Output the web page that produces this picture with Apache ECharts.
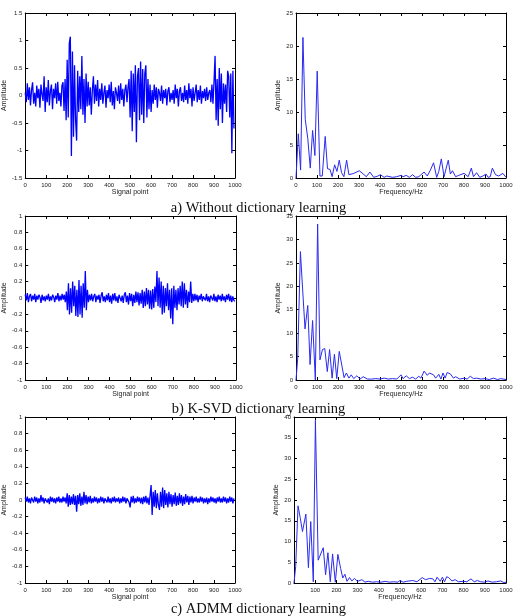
<!DOCTYPE html>
<html>
<head>
<meta charset="utf-8">
<script src="https://cdn.jsdelivr.net/npm/echarts@6/dist/echarts.min.js"></script>
<style>
  html, body { margin: 0; padding: 0; background: #fff; }
  #chart { width: 517px; height: 616px; }
</style>
</head>
<body>
<div id="chart"></div>
<script>
// time signals, one value every 5 samples
const signalStep = 5
const signalA = [
  0.05, -0.12, 0.22, -0.08, 0.15, -0.18, 0.10, 0.24, -0.15, 0.05,
  -0.20, 0.18, -0.05, 0.12, -0.22, 0.20, 0.02, -0.10, 0.35, -0.30,
  0.15, -0.12, 0.28, -0.18, 0.08, 0.20, -0.25, 0.12, -0.05, 0.22,
  -0.15, 0.25, -0.10, 0.05, -0.20, 0.18, 0.24, -0.28, 0.30, -0.45,
  0.65, -0.40, 0.95, 1.07, -1.10, 0.80, -0.75, 0.55, -0.45, -0.82,
  0.45, -0.30, 0.35, -0.25, 0.72, -0.35, 0.30, -0.50, 0.40, -0.20,
  0.25, -0.18, 0.15, -0.35, 0.10, 0.35, -0.15, 0.20, -0.10, 0.28,
  -0.20, 0.12, -0.08, 0.22, -0.15, 0.05, 0.18, -0.22, 0.10, -0.05,
  0.20, -0.12, 0.25, -0.18, 0.08, -0.25, 0.15, 0.05, -0.10, 0.18,
  -0.15, 0.22, -0.08, 0.12, -0.20, 0.10, 0.20, -0.12, 0.15, 0.30,
  -0.40, 0.45, -0.65, 0.40, -0.30, 0.55, -0.85, 0.35, 0.50, -0.45,
  0.62, -0.35, 0.48, -0.50, 0.40, 0.55, -0.40, 0.30, -0.25, 0.20,
  -0.30, 0.10, -0.15, 0.20, -0.08, 0.15, -0.22, 0.12, 0.05, -0.10,
  0.18, -0.15, 0.10, -0.05, 0.12, -0.18, 0.08, 0.15, -0.12, 0.05,
  -0.08, 0.10, -0.15, 0.20, -0.05, 0.12, -0.20, 0.08, 0.15, -0.10,
  0.05, -0.12, 0.18, -0.08, 0.10, -0.15, 0.22, -0.05, 0.12, -0.20,
  0.15, -0.10, 0.05, 0.20, -0.12, 0.10, -0.08, 0.18, -0.15, 0.08,
  -0.05, 0.12, -0.10, 0.15, -0.08, 0.05, 0.10, -0.12, 0.20, -0.15,
  0.25, 0.72, -0.45, 0.30, -0.55, 0.50, -0.25, 0.40, -0.50, 0.22,
  -0.15, 0.20, -0.30, 0.45, 0.35, -0.40, 0.40, -1.05, 0.45, -0.60
]
const signalB = [
  0.04, -0.03, 0.06, -0.05, 0.02, 0.05, -0.04, 0.03, -0.02, 0.05,
  -0.05, 0.03, -0.02, 0.04, 0.01, -0.06, 0.04, -0.03, 0.02, -0.04,
  0.03, -0.02, 0.05, -0.04, 0.02, -0.03, 0.04, 0.01, -0.05, 0.03,
  -0.02, 0.06, -0.04, 0.03, -0.03, 0.05, -0.02, 0.04, -0.05, 0.08,
  -0.15, 0.18, -0.20, 0.12, -0.18, 0.20, -0.10, 0.15, -0.22, 0.10,
  -0.23, 0.22, -0.20, 0.15, -0.24, 0.18, -0.12, 0.33, -0.15, 0.10,
  -0.05, 0.04, -0.03, 0.05, -0.04, 0.02, 0.05, -0.05, 0.03, -0.02,
  0.04, -0.06, 0.03, 0.07, -0.04, 0.02, -0.05, 0.04, -0.03, 0.06,
  -0.05, 0.03, -0.07, 0.05, -0.03, 0.06, -0.04, 0.02, -0.06, 0.04,
  0.05, -0.04, 0.03, -0.06, 0.04, 0.07, -0.05, 0.03, -0.08, 0.06,
  -0.04, 0.05, -0.10, 0.04, -0.06, 0.08, -0.05, 0.07, -0.09, 0.06,
  -0.07, 0.10, -0.12, 0.08, -0.10, 0.12, -0.08, 0.10, -0.13, 0.09,
  -0.14, 0.11, -0.12, 0.14, -0.05, 0.33, -0.10, 0.25, -0.12, 0.20,
  -0.20, 0.15, -0.18, 0.12, -0.10, 0.18, -0.15, 0.10, -0.25, 0.12,
  -0.32, 0.15, -0.12, 0.10, -0.15, 0.12, -0.08, 0.15, -0.10, 0.20,
  -0.12, 0.18, -0.08, 0.10, -0.12, 0.08, -0.05, 0.20, -0.06, 0.05,
  -0.04, 0.05, -0.03, 0.04, -0.05, 0.03, -0.02, 0.05, -0.04, 0.02,
  0.04, -0.03, 0.05, -0.04, 0.02, -0.05, 0.03, 0.04, -0.03, 0.05,
  -0.04, 0.02, -0.05, 0.04, -0.02, 0.03, -0.04, 0.05, -0.03, 0.02,
  -0.05, 0.04, -0.02, 0.05, -0.04, 0.03, -0.05, 0.02, -0.03, -0.04
]
const signalC = [
  0.03, -0.02, 0.04, -0.03, 0.02, -0.04, 0.03, 0.01, -0.03, 0.04,
  -0.02, 0.03, -0.04, 0.02, -0.03, 0.06, -0.02, 0.03, -0.04, 0.02,
  0.03, -0.03, 0.02, -0.05, 0.04, -0.02, 0.03, -0.03, 0.02, -0.04,
  0.03, -0.02, 0.04, -0.03, 0.02, -0.03, 0.04, -0.02, 0.03, -0.04,
  0.08, -0.08, 0.06, -0.06, 0.04, -0.05, 0.07, -0.06, 0.05, -0.14,
  0.06, -0.05, 0.08, -0.07, 0.04, -0.06, 0.10, -0.04, 0.06, -0.05,
  0.04, -0.03, 0.05, -0.04, 0.02, -0.03, 0.04, -0.02, 0.03, -0.04,
  0.02, -0.03, 0.04, -0.02, 0.03, -0.04, 0.02, 0.03, -0.03, 0.04,
  -0.03, 0.02, -0.04, 0.03, -0.02, 0.04, -0.03, 0.02, -0.02, 0.03,
  -0.04, 0.02, -0.03, 0.04, -0.02, 0.03, -0.04, 0.02, 0.04, -0.03,
  -0.09, 0.04, -0.03, 0.05, -0.04, 0.02, -0.03, 0.04, -0.02, 0.03,
  -0.04, 0.03, -0.05, 0.04, -0.03, 0.05, -0.04, 0.03, -0.06, 0.05,
  0.18, -0.18, 0.10, -0.08, 0.12, -0.10, 0.08, -0.06, -0.12, 0.10,
  -0.08, 0.15, -0.10, 0.12, -0.06, 0.08, -0.09, 0.10, -0.05, 0.07,
  -0.08, 0.06, -0.05, 0.09, -0.07, 0.05, -0.06, 0.08, -0.04, 0.06,
  -0.07, 0.04, -0.05, 0.07, -0.03, 0.05, -0.06, 0.04, -0.03, 0.05,
  -0.04, 0.03, -0.02, 0.04, -0.03, 0.02, -0.03, 0.04, -0.02, 0.03,
  -0.04, 0.02, -0.03, 0.03, -0.05, 0.02, -0.03, 0.04, -0.02, 0.03,
  -0.03, 0.02, -0.04, 0.03, -0.02, 0.04, -0.03, 0.02, -0.03, 0.04,
  -0.02, 0.03, -0.04, 0.02, -0.03, 0.04, -0.02, 0.03, -0.04, 0.02
]

// spectra
const freqA = [0, 11, 22, 33, 44, 56, 68, 79, 90, 101, 114, 125, 139, 150, 162, 172, 184, 195, 206, 217,
  228, 241, 252, 275, 302, 335, 352, 370, 390, 402, 420, 432, 460, 480, 500, 510, 525, 540, 555, 570,
  585, 595, 610, 625, 640, 655, 670, 680, 692, 705, 725, 735, 745, 760, 775, 800, 820, 835, 845, 860,
  875, 890, 905, 915, 925, 935, 950, 965, 985, 1000]
const ampA = [0, 6.7, 1.2, 21.3, 8.9, 6.0, 1.5, 7.2, 3.4, 16.2, 0.3, 0.3, 6.3, 1.4, 1.3, 0.2, 2.0, 1.0, 2.7, 0.8,
  0.2, 2.7, 0.5, 0.7, 1.1, 0.2, 0.9, 0.1, 0.3, 0.5, 0.1, 0.3, 0.1, 0.2, 0.4, 0.2, 0.4, 0.1, 0.5, 0.1,
  0.2, 0.5, 0.9, 0.3, 1.2, 2.3, 0.1, 1.0, 2.9, 0.2, 2.7, 0.6, 1.1, 0.2, 0.4, 0.7, 0.2, 1.5, 0.2, 0.8,
  0.1, 0.3, 0.6, 0.1, 0.2, 1.5, 0.5, 0.3, 0.7, 0.1]
const freqB = [0, 8, 21, 32, 43, 56, 67, 79, 92, 103, 114, 126, 137, 149, 160, 172, 183, 194, 206, 218,
  229, 240, 252, 263, 275, 290, 305, 320, 340, 360, 380, 400, 420, 440, 460, 480, 500, 510, 525, 540,
  555, 570, 585, 595, 610, 625, 635, 655, 665, 680, 690, 700, 710, 720, 735, 750, 760, 780, 800, 815,
  830, 845, 860, 880, 900, 920, 940, 960, 975, 1000]
const ampB = [0, 4.5, 27.4, 19.0, 10.9, 15.9, 3.3, 12.7, 0, 33.3, 4.3, 6.5, 6.7, 1.8, 6.5, 0.4, 5.5, 0.3, 6.1, 3.2,
  0.5, 1.5, 0.4, 1.1, 0.3, 0.9, 0.2, 0.7, 0.2, 0.2, 0.3, 0.2, 0.4, 0.2, 0.3, 0.2, 1.1, 0.3, 0.9, 0.3,
  0.6, 0.2, 0.8, 0.4, 1.9, 1.0, 1.5, 1.1, 0.4, 1.2, 0.2, 1.5, 0.4, 1.6, 1.3, 0.4, 0.7, 0.2, 0.4, 0.2,
  0.8, 0.3, 0.4, 0.2, 0.3, 0.1, 0.4, 0.1, 0.3, 0.1]
const freqC = [0, 8, 19, 30, 40, 56, 68, 79, 91, 101, 114, 138, 149, 160, 171, 182, 195, 207, 220, 230,
  240, 250, 262, 273, 285, 300, 320, 335, 350, 370, 390, 410, 430, 450, 470, 490, 500, 515, 530, 560,
  580, 605, 620, 640, 655, 665, 675, 690, 700, 710, 720, 730, 745, 760, 775, 800, 815, 835, 850, 865,
  880, 900, 915, 935, 955, 975, 990, 1000]
const ampC = [0, 4.0, 18.6, 15.5, 12.4, 16.6, 3.7, 14.8, 0.3, 39.2, 5.5, 8.5, 2.0, 7.3, 0.3, 7.0, 0.2, 6.9, 3.5, 1.2,
  2.1, 0.4, 1.3, 0.5, 1.1, 0.4, 0.8, 0.2, 0.4, 0.2, 0.3, 0.2, 0.4, 0.2, 0.3, 0.2, 0.6, 0.2, 0.4, 0.6,
  0.3, 1.3, 0.8, 1.1, 1.0, 0.3, 1.4, 0.4, 1.4, 0.3, 1.5, 1.3, 0.5, 0.8, 0.3, 0.4, 0.3, 1.0, 0.3, 0.6,
  0.3, 0.2, 0.5, 0.2, 0.3, 0.5, 0.1, 0.2]

const captions = ['a) Without dictionary learning', 'b) K-SVD dictionary learning', 'c) ADMM dictionary learning']

const panels = [
  { grid: { left: 24, top: 13, width: 211, height: 165 }, y: [-1.5, 1.5, 0.5], xName: 'Signal point', data: signalA, kind: 'time' },
  { grid: { left: 296, top: 13, width: 210, height: 165 }, y: [0, 25, 5], xName: 'Frequency/Hz', fx: freqA, data: ampA, kind: 'freq' },
  { grid: { left: 25, top: 216, width: 211, height: 164 }, y: [-1, 1, 0.2], xName: 'Signal point', data: signalB, kind: 'time' },
  { grid: { left: 296, top: 216, width: 210, height: 164 }, y: [0, 35, 5], xName: 'Frequency/Hz', fx: freqB, data: ampB, kind: 'freq' },
  { grid: { left: 24, top: 417, width: 211, height: 166 }, y: [-1, 1, 0.2], xName: 'Signal point', data: signalC, kind: 'time' },
  { grid: { left: 294, top: 417, width: 212, height: 166 }, y: [0, 40, 5], xName: 'Frequency/Hz', fx: freqC, data: ampC, kind: 'freq', hideZero: true }
]

const labelFont = { fontFamily: 'Liberation Sans', fontSize: 6, color: '#222' }
const lineStyle = { color: '#000', width: 1 }

const grids = []
const xAxes = []
const yAxes = []
const series = []

panels.forEach((p, i) => {
  grids.push(p.grid)
  xAxes.push({
    gridIndex: i, type: 'value', min: 0, max: 1000, interval: 100,
    name: p.xName, nameLocation: 'middle', nameGap: 11,
    nameTextStyle: { fontFamily: 'Liberation Sans', fontSize: 7, color: '#222' },
    axisLine: { show: true, onZero: false, lineStyle },
    axisTick: { inside: true, length: 3, lineStyle },
    axisLabel: Object.assign({ margin: 4, formatter: v => (p.hideZero && v === 0) ? '' : String(v) }, labelFont),
    splitLine: { show: false }
  })
  xAxes.push({
    gridIndex: i, type: 'value', position: 'top', min: 0, max: 1000, interval: 100,
    axisLine: { show: true, onZero: false, lineStyle },
    axisTick: { inside: true, length: 3, lineStyle },
    axisLabel: { show: false }, splitLine: { show: false }
  })
  yAxes.push({
    gridIndex: i, type: 'value', min: p.y[0], max: p.y[1], interval: p.y[2],
    name: 'Amplitude', nameLocation: 'middle', nameGap: p.kind === 'time' ? 13 : 14,
    nameTextStyle: { fontFamily: 'Liberation Sans', fontSize: 7, color: '#222' },
    axisLine: { show: true, onZero: false, lineStyle },
    axisTick: { inside: true, length: 3, lineStyle },
    axisLabel: Object.assign({ margin: 3 }, labelFont),
    splitLine: { show: false }
  })
  yAxes.push({
    gridIndex: i, type: 'value', position: 'right', min: p.y[0], max: p.y[1], interval: p.y[2],
    axisLine: { show: true, onZero: false, lineStyle },
    axisTick: { inside: true, length: 3, lineStyle },
    axisLabel: { show: false }, splitLine: { show: false }
  })
  const pts = p.kind === 'time'
    ? p.data.map((v, k) => [k * signalStep, v])
    : p.data.map((v, k) => [p.fx[k], v])
  series.push({
    type: 'line', xAxisIndex: i * 2, yAxisIndex: i * 2,
    data: pts, showSymbol: false, silent: true,
    lineStyle: p.kind === 'time' ? { color: '#0000ff', width: 1.3 } : { color: '#2a2aee', width: 1 }
  })
})

const titles = captions.map((t, i) => ({
  text: t, left: 'center', top: [196, 397, 597][i],
  textStyle: { fontFamily: 'Liberation Serif', fontSize: 14.5, fontWeight: 'normal', color: '#111' }
}))

const chart = echarts.init(document.getElementById('chart'))
chart.setOption({
  animation: false,
  backgroundColor: '#fff',
  title: titles,
  grid: grids,
  xAxis: xAxes,
  yAxis: yAxes,
  series: series
})
</script>
</body>
</html>
